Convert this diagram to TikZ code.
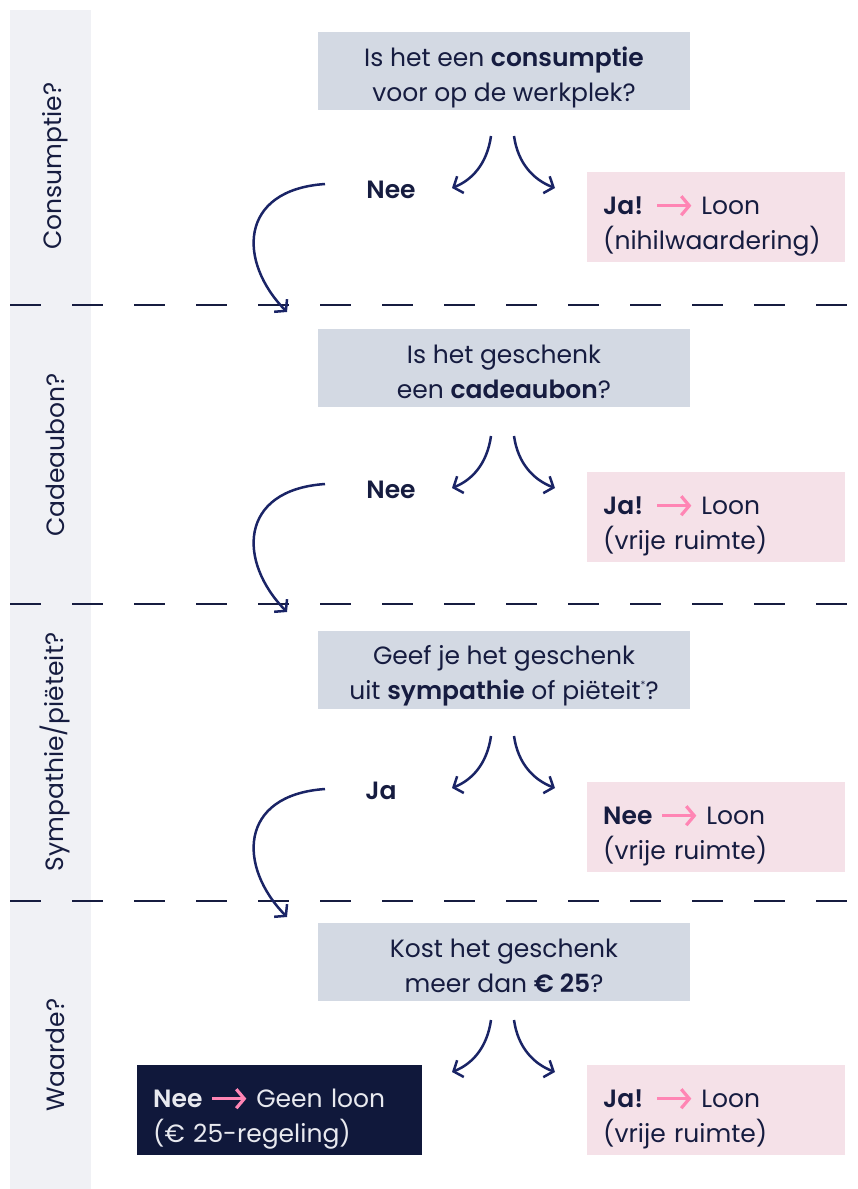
\documentclass[tikz,border=0pt]{standalone}
\usepackage{fontspec}
\setmainfont{Poppins}[BoldFont={Poppins SemiBold}]
\usetikzlibrary{arrows.meta}
\definecolor{navy}{HTML}{161C40}
\definecolor{arrowblue}{HTML}{1A2466}
\definecolor{qgray}{HTML}{D3D9E3}
\definecolor{pinkbg}{HTML}{F5E1E8}
\definecolor{pinkarr}{HTML}{FF85B4}
\definecolor{sidegray}{HTML}{F0F1F5}
\definecolor{darkbox}{HTML}{10183B}
\definecolor{lighttext}{HTML}{E8E9EF}
\newcommand\parrow{\tikz[baseline=0pt,x=1pt,y=1pt]\draw[pinkarr,line width=3.2pt,-{Straight Barb[length=8pt,width=19pt]}] (0,8.5)--(34,8.5);}
\begin{document}
\begin{tikzpicture}[x=1pt,y=-1pt,
  txt/.style={font=\fontsize{25}{35}\selectfont, text=navy},
  qbox/.style={txt, fill=qgray, minimum width=372pt, minimum height=78pt, inner sep=0pt, align=center, text height=66pt, text depth=6pt},
  abox/.style={txt, fill=pinkbg, anchor=north west, minimum width=258pt, minimum height=90pt, inner xsep=16pt, inner ysep=0pt, text width=226pt, align=left, text height=20pt, text depth=26pt},
  dbox/.style={abox, fill=darkbox, text=lighttext, minimum width=285pt, text width=253pt},
  lbl/.style={txt, font=\fontsize{25}{35}\selectfont\bfseries},
  side/.style={txt, rotate=90},
  carrow/.style={draw=arrowblue, line width=2.5pt, -{Straight Barb[length=7.5pt,width=18pt]}},
  sep/.style={draw=navy, line width=1.4pt, dash pattern=on 31pt off 31pt}
]
\useasboundingbox (0,0) rectangle (857,1189);
\fill[sidegray] (10,10) rectangle (91,1189);
\node[side] (s1) at (55,166) {Consumptie?};
\node[side] (s2) at (55,455) {Cadeaubon?};
\node[side] (s3) at (55,752) {Sympathie/piëteit?};
\node[side] (s4) at (55,1055) {Waarde?};
\foreach \yy/\nm in {305/d1,604/d2,901/d3}{
  \coordinate (\nm a) at (10,\yy);
  \coordinate (\nm b) at (857,\yy);
  \draw[sep] (\nm a) -- (\nm b);
}
% questions
\node[qbox] (q1) at (504,71) {Is het een \textbf{consumptie}\\voor op de werkplek?};
\node[qbox] (q2) at (504,368) {Is het geschenk\\een \textbf{cadeaubon}?};
\node[qbox] (q3) at (504,669.5) {Geef je het geschenk\\uit \textbf{sympathie} of piëteit\raisebox{0.8ex}{\fontsize{10}{10}\selectfont*}?};
\node[qbox] (q4) at (504,962) {Kost het geschenk\\meer dan \textbf{€ 25}?};
% answers
\node[abox] (a1) at (587,172) {\textbf{Ja!} \parrow\ Loon\\(nihilwaardering)};
\node[abox] (a2) at (587,472) {\textbf{Ja!} \parrow\ Loon\\(vrije ruimte)};
\node[abox] (a3) at (587,782) {\textbf{Nee} \parrow\ Loon\\(vrije ruimte)};
\node[abox] (a4) at (587,1065) {\textbf{Ja!} \parrow\ Loon\\(vrije ruimte)};
\node[dbox] (a5) at (137,1065) {\textbf{Nee} \parrow\ Geen loon\\(€ 25-regeling)};
% labels
\node[lbl] (n1) at (391,190) {Nee};
\node[lbl] (n2) at (391,490) {Nee};
\node[lbl] (n3) at (381,791) {Ja};
% arrows per section
\foreach \k/\dy in {1/0, 2/300, 3/600, 4/884}{
  \coordinate (l\k s) at (491,136+\dy);
  \coordinate (l\k e) at (452,188+\dy);
  \coordinate (r\k s) at (514,136+\dy);
  \coordinate (r\k e) at (555,188+\dy);
  \draw[carrow] (l\k s) .. controls (487,164+\dy) and (472,180+\dy) .. (l\k e);
  \draw[carrow] (r\k s) .. controls (518,164+\dy) and (534,180+\dy) .. (r\k e);
}
\foreach \k/\dy in {1/0, 2/300, 3/605}{
  \coordinate (b\k s) at (325,184+\dy);
  \coordinate (b\k e) at (287,312+\dy);
  \draw[carrow] (b\k s) .. controls (238,190+\dy) and (238,262+\dy) .. (b\k e);
}
\end{tikzpicture}
\end{document}
